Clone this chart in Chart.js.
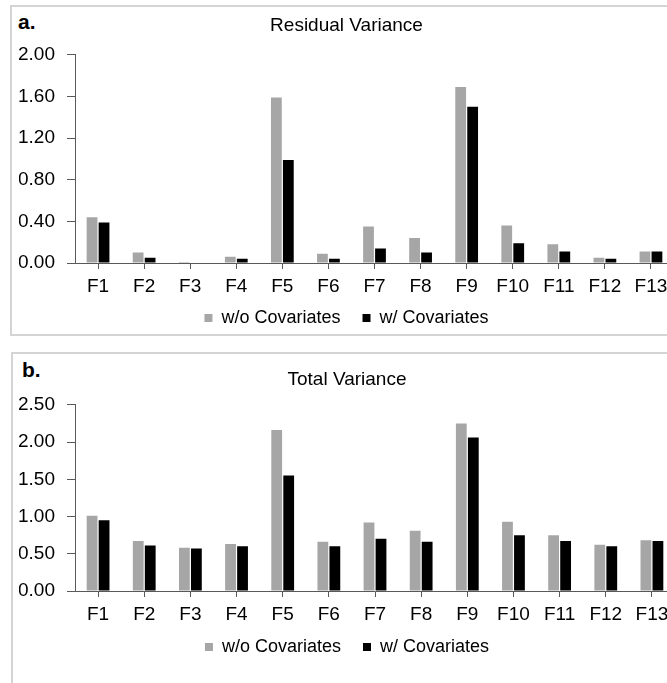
<!DOCTYPE html>
<html>
<head>
<meta charset="utf-8">
<script src="https://cdn.jsdelivr.net/npm/chart.js@4.4.1/dist/chart.umd.min.js"></script>
<style>
  body { margin:0; width:667px; height:683px; overflow:hidden; background:#fff; position:relative; font-family:"Liberation Sans", Arial, sans-serif; }
  .box { position:absolute; border:2px solid #d4d4d4; }
  #boxA { left:10px; top:5px; width:700px; height:327px; }
  #boxB { left:11px; top:352px; width:700px; height:360px; }
  .tag { position:absolute; font-weight:bold; font-size:21px; color:#000; }
  canvas { position:absolute; }
</style>
</head>
<body>
<div class="box" id="boxA"></div>
<div class="box" id="boxB"></div>
<div class="tag" style="left:18px;top:10px">a.</div>
<div class="tag" style="left:22px;top:358px">b.</div>
<canvas id="chartA" width="680" height="341" style="left:12px;top:8px"></canvas>
<canvas id="chartB" width="680" height="322" style="left:13px;top:355px"></canvas>
<script>
var factors = ['F1','F2','F3','F4','F5','F6','F7','F8','F9','F10','F11','F12','F13'];

var residNoCov = [0.44, 0.10, 0.01, 0.06, 1.59, 0.09, 0.35, 0.24, 1.69, 0.36, 0.18, 0.05, 0.11];
var residCov   = [0.39, 0.05, 0.00, 0.04, 0.99, 0.04, 0.14, 0.10, 1.50, 0.19, 0.11, 0.04, 0.11];

var totalNoCov = [1.01, 0.67, 0.58, 0.63, 2.16, 0.66, 0.92, 0.81, 2.25, 0.93, 0.75, 0.62, 0.68];
var totalCov   = [0.95, 0.61, 0.57, 0.60, 1.55, 0.60, 0.70, 0.66, 2.06, 0.75, 0.67, 0.60, 0.67];

var FONT = '"Liberation Sans", Arial, sans-serif';
var AXIS = '#595959';

// move the legend up a bit after layout, so it can sit close under the x labels
var legendShift = {
	id: 'legendShift',
	afterLayout: function (chart, args, opts) {
		var lg = chart.legend;
		if (lg && opts.dy) { lg.top += opts.dy; lg.bottom += opts.dy; }
	}
};

function makeBars(id, title, noCov, withCov, yMax, yStep, opt) {
	var ctx = document.getElementById(id);
	return new Chart(ctx, {
		type: 'bar',
		plugins: [legendShift],
		data: {
			labels: factors,
			datasets: [
				{ label: 'w/o Covariates', data: noCov, backgroundColor: '#a6a6a6', borderWidth: 0,
				  categoryPercentage: 0.52, barPercentage: 0.9 },
				{ label: 'w/ Covariates', data: withCov, backgroundColor: '#000000', borderWidth: 0,
				  categoryPercentage: 0.52, barPercentage: 0.9 }
			]
		},
		options: {
			responsive: false,
			animation: false,
			layout: { padding: { left: opt.padLeft, right: 18, top: 0, bottom: 0 } },
			plugins: {
				title: { display: true, text: title, color: '#000',
					font: { family: FONT, size: 19, weight: 'normal' },
					padding: { top: opt.titleTop, bottom: opt.titleBottom } },
				legend: { position: 'bottom',
					labels: { color: '#000', boxWidth: 8, boxHeight: 8, padding: 22,
						font: { family: FONT, size: 18 } } },
				legendShift: { dy: opt.legendDy },
				tooltip: { enabled: false }
			},
			scales: {
				x: {
					grid: { offset: false, drawOnChartArea: false, drawTicks: true, tickLength: 6, color: AXIS },
					border: { display: true, color: AXIS, width: 1 },
					ticks: { color: '#000', padding: 6, maxRotation: 0, font: { family: FONT, size: 19 } },
					afterFit: function (s) { s.height = 36; }
				},
				y: {
					min: 0, max: yMax,
					grid: { drawOnChartArea: false, drawTicks: true, tickLength: 8, color: AXIS },
					border: { display: true, color: AXIS, width: 1 },
					ticks: { stepSize: yStep, color: '#000', padding: 12,
						font: { family: FONT, size: 19 },
						callback: function (v) { return v.toFixed(2); } },
					afterFit: function (s) { s.width = opt.yWidth; }
				}
			}
		}
	});
}

makeBars('chartA', 'Residual Variance', residNoCov, residCov, 2.0, 0.4,
	{ padLeft: 7, yWidth: 56, titleTop: 6, titleBottom: 18, legendDy: -12 });
makeBars('chartB', 'Total Variance', totalNoCov, totalCov, 2.5, 0.5,
	{ padLeft: 6, yWidth: 56, titleTop: 13, titleBottom: 14, legendDy: -11 });
</script>
</body>
</html>
